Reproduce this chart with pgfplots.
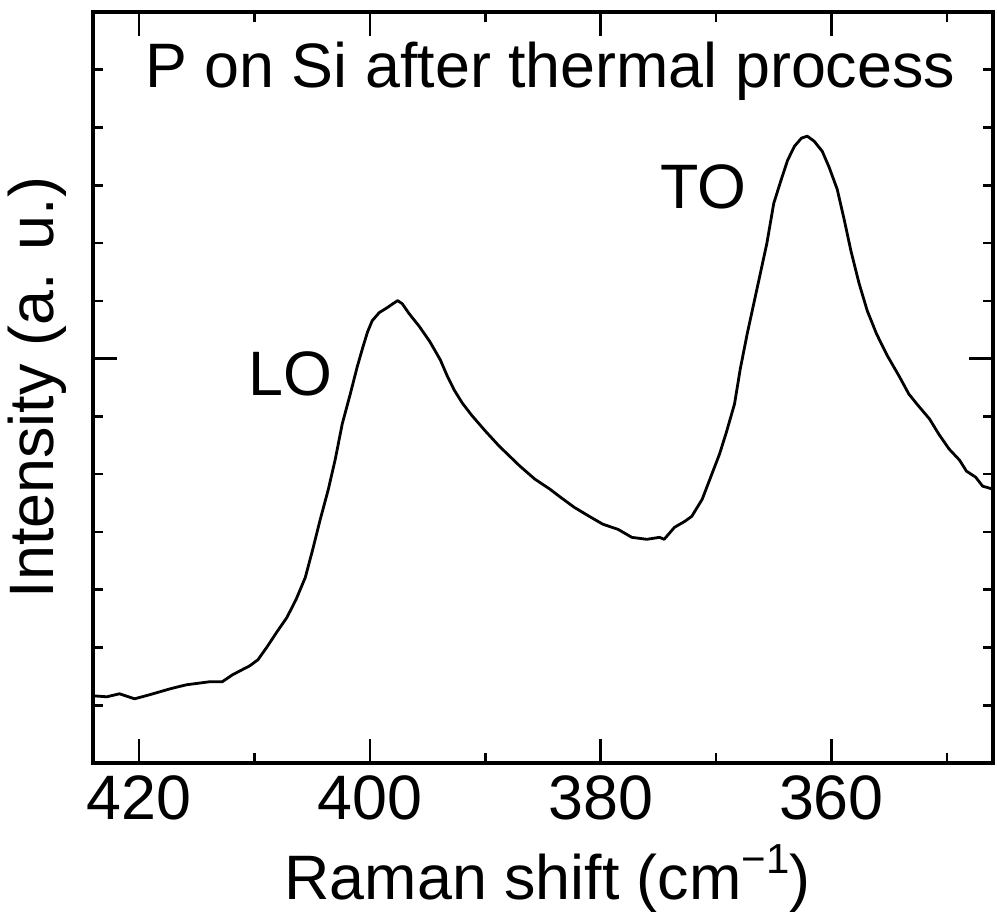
\documentclass[border=0pt]{standalone}
\usepackage{fontspec}
\setmainfont{Liberation Sans}
\usepackage{pgfplots}
\pgfplotsset{compat=1.18}
\newcommand{\bigfont}{\fontsize{31.4}{36}\selectfont}
\begin{document}
\begin{tikzpicture}
\useasboundingbox (-46.5pt,-78.5pt) rectangle (452pt,381.5pt);
\begin{axis}[at={(0,0)}, anchor=south west, scale only axis,
 width=450pt, height=375.5pt,
 x dir=reverse, xmin=346, xmax=424, ymin=0, ymax=13,
 xtick={360,380,400,420}, minor xtick={350,370,390,410},
 ytick={7}, minor ytick={1,2,3,4,5,6,8,9,10,11,12}, yticklabels={},
 tick align=inside, major tick length=12pt, minor tick length=5pt,
 axis line style={line width=1.6pt},
 every tick/.style={black, line width=1.3pt},
 /pgf/number format/assume math mode=true,
 xticklabel style={font=\bigfont, inner sep=0pt, yshift=-6pt},
 clip=false]
\addplot[black, line width=1.4pt, line join=round] coordinates {
(424.0,1.163) (422.8,1.146) (421.7,1.198) (420.4,1.111) (419.1,1.181)
(417.3,1.285) (415.9,1.354) (413.9,1.406) (412.8,1.406) (411.9,1.528)
(410.4,1.684) (409.7,1.788) (408.9,2.014) (408.1,2.257) (407.2,2.517)
(406.4,2.830) (405.6,3.212) (405.0,3.663) (404.3,4.219) (403.6,4.740)
(403.0,5.260) (402.4,5.868) (401.7,6.389) (401.1,6.858) (400.6,7.205)
(400.2,7.465) (399.8,7.656) (399.2,7.795) (398.5,7.882) (398.0,7.951)
(397.6,8.003) (397.2,7.951) (396.6,7.778) (395.7,7.552) (394.8,7.292)
(393.9,6.979) (393.3,6.701) (392.7,6.458) (392.0,6.233) (391.2,6.024)
(390.0,5.747) (388.8,5.486) (387.0,5.139) (385.7,4.913)
(384.4,4.740) (383.6,4.618) (382.3,4.427) (381.0,4.271) (379.8,4.132)
(378.5,4.045) (377.3,3.906) (376.0,3.872) (374.9,3.906) (374.5,3.872)
(373.6,4.080) (372.7,4.184) (372.1,4.271) (371.2,4.566) (370.3,5.035)
(369.7,5.347) (369.1,5.729) (368.4,6.215) (367.9,6.823) (367.3,7.431)
(366.6,8.073) (365.6,8.993) (365.0,9.688) (364.4,10.069) (363.8,10.434)
(363.2,10.677) (362.6,10.816) (362.1,10.851) (361.5,10.764)
(360.8,10.590) (360.2,10.312) (359.5,9.931) (358.9,9.410) (358.3,8.854)
(357.6,8.299) (356.9,7.830) (356.1,7.431) (355.2,7.066) (354.1,6.684)
(353.3,6.389) (352.6,6.215) (351.5,5.955) (350.7,5.694) (349.8,5.434)
(348.9,5.243) (348.3,5.052) (347.5,4.948) (346.9,4.792) (346.0,4.740)
};
\node[font=\bigfont, anchor=base west, inner sep=0pt] at (rel axis cs:0.0578,0.8988) {P on Si after thermal process};
\node[font=\bigfont, anchor=base west, inner sep=0pt] at (rel axis cs:0.1722,0.4887) {LO};
\node[font=\bigfont, anchor=base west, inner sep=0pt] at (rel axis cs:0.63,0.739) {TO};
\node[font=\bigfont, anchor=base, inner sep=0pt] at (rel axis cs:0.505,-0.1824) {Raman shift (cm\raisebox{0.42em}{\fontsize{21}{24}\selectfont −1})};
\node[font=\bigfont, anchor=base, inner sep=0pt, rotate=90] at (rel axis cs:-0.0444,0.5) {Intensity (a. u.)};
\end{axis}
\end{tikzpicture}
\end{document}
